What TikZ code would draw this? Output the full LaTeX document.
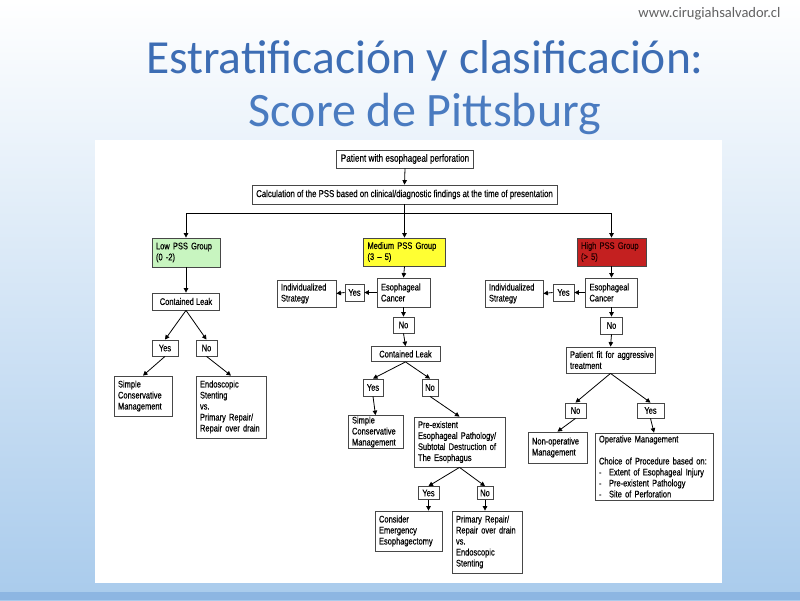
\documentclass[tikz,border=0pt]{standalone}
\usepackage{fontspec}
\setmainfont{Liberation Sans}
\newfontfamily\narrowfont[FakeStretch=0.78,FakeBold=0.3]{Liberation Sans}
\newfontfamily\titlefont{Carlito}
\usetikzlibrary{arrows.meta}
\definecolor{ttl}{HTML}{3D6DB4}
\definecolor{ttlb}{HTML}{4A7BC0}
\definecolor{bgblue}{HTML}{A9CBEC}
\definecolor{bgband}{HTML}{8DB6E2}
\definecolor{lowg}{HTML}{C8F5C0}
\definecolor{medy}{HTML}{FFFF33}
\definecolor{highr}{HTML}{C42020}
\newcommand\bxf{\narrowfont\fontsize{9.6}{11}\selectfont\hyphenpenalty=10000\exhyphenpenalty=10000}
\tikzset{
  bx/.style={draw=black!72, fill=white, line width=0.8pt, inner xsep=4pt, inner ysep=1pt, font=\bxf, align=center},
  lbx/.style={bx, align=left},
  arr/.style={line width=0.8pt, -{Triangle[length=4.5pt,width=4.5pt]}},
}
\begin{document}
\begin{tikzpicture}[x=1pt,y=-1pt]
\useasboundingbox (0,0) rectangle (800,600);
% background
\shade[top color=white, middle color=white!75!bgblue, bottom color=bgblue] (0,0) rectangle (800,600);
\fill[bgband] (0,592) rectangle (800,600);
\fill[white] (95,140) rectangle (722,583);
% titles
\node[font=\titlefont\fontsize{14.5}{16}\selectfont, text=black!62, anchor=east] (url) at (784,14) {www.cirugiahsalvador.cl};
\node[font=\titlefont\fontsize{47.5}{52}\selectfont, text=ttl, anchor=base] (t1) at (425,73) {Estratificación y clasificación:};
\node[font=\titlefont\fontsize{48}{52}\selectfont, text=ttlb, anchor=base] (t2) at (425,126) {Score de Pittsburg};

% top
\node[bx, minimum width=136, minimum height=18, font=\narrowfont\fontsize{10.5}{11}\selectfont] (pat) at (405,159) {Patient with esophageal perforation};
\node[bx, minimum width=305, minimum height=19, font=\narrowfont\fontsize{10}{11}\selectfont] (calc) at (404.5,194.5) {Calculation of the PSS based on clinical/diagnostic findings at the time of presentation};
\coordinate (j) at (404.5,213);

% groups
\node[lbx, fill=lowg, text width=60, minimum height=29] (low) at (186,252.5) {Low~PSS~Group\\(0 -2)};
\node[lbx, fill=medy, text width=74, minimum height=28] (med) at (404.5,252) {Medium~PSS~Group\\(3 – 5)};
\node[lbx, fill=highr, text width=61, minimum height=28, text=black!85!red] (high) at (611.5,252) {High~PSS~Group\\(> 5)};

% low column
\node[bx, minimum width=67, minimum height=17] (lowCL) at (186,301.5) {Contained~Leak};
\node[bx, minimum width=26, minimum height=16, inner xsep=2pt] (lowYes) at (165,348) {Yes};
\node[bx, minimum width=21, minimum height=16, inner xsep=2pt] (lowNo) at (206.5,348) {No};
\node[lbx, text width=50, minimum height=40] (lowSimple) at (143,396) {Simple\\Conservative\\Management};
\node[lbx, text width=62, minimum height=62] (lowEndo) at (231,407) {Endoscopic\\Stenting\\vs.\\Primary~Repair/\\Repair~over~drain};

% medium column
\node[lbx, text width=51, minimum height=27] (medInd) at (306.5,293.5) {Individualized\\Strategy};
\node[bx, minimum width=19, minimum height=17, inner xsep=2pt] (medYes) at (354.5,292.5) {Yes};
\node[lbx, text width=45, minimum height=29] (medCan) at (403.5,292.5) {Esophageal\\Cancer};
\node[bx, minimum width=21, minimum height=16, inner xsep=2pt] (medNo) at (403.5,325) {No};
\node[bx, minimum width=69, minimum height=15] (medCL) at (405.5,354) {Contained~Leak};
\node[bx, minimum width=20, minimum height=17, inner xsep=2pt] (medYes2) at (373,387.5) {Yes};
\node[bx, minimum width=16, minimum height=17, inner xsep=2pt] (medNo2) at (430,387.5) {No};
\node[lbx, text width=47, minimum height=31] (medSimple) at (375.5,432) {Simple\\Conservative\\Management};
\node[lbx, text width=83, minimum height=50] (medPre) at (459.5,442) {Pre-existent\\Esophageal~Pathology/\\Subtotal~Destruction~of\\The~Esophagus};
\node[bx, minimum width=21, minimum height=13, inner xsep=2pt, inner ysep=0pt] (medYes3) at (428.5,493) {Yes};
\node[bx, minimum width=16, minimum height=13, inner xsep=2pt, inner ysep=0pt] (medNo3) at (485,493) {No};
\node[lbx, text width=59, minimum height=40] (medCons) at (408.5,531) {Consider\\Emergency\\Esophagectomy};
\node[lbx, text width=62, minimum height=62] (medPrim) at (487,542) {Primary~Repair/\\Repair~over~drain\\vs.\\Endoscopic\\Stenting};

% high column
\node[lbx, text width=50, minimum height=27] (highInd) at (514,293.5) {Individualized\\Strategy};
\node[bx, minimum width=21, minimum height=17, inner xsep=2pt] (highYes) at (563.5,292.5) {Yes};
\node[lbx, text width=44, minimum height=29] (highCan) at (611.5,292.5) {Esophageal\\Cancer};
\node[bx, minimum width=22, minimum height=17, inner xsep=2pt] (highNo) at (611.5,325.5) {No};
\node[lbx, text width=81, minimum height=26] (highFit) at (610.5,360) {Patient~fit~for~aggressive\\treatment};
\node[bx, minimum width=21, minimum height=15, inner xsep=2pt] (highNo2) at (575.5,410.5) {No};
\node[bx, minimum width=27, minimum height=15, inner xsep=2pt] (highYes2) at (650.5,410.5) {Yes};
\node[lbx, text width=51, minimum height=31] (highNonop) at (557.5,447.5) {Non-operative\\Management};
\node[lbx, text width=110, minimum height=67] (highOp) at (654,466.5) {Operative~Management\\[11pt]Choice~of~Procedure~based~on:\\\makebox[10pt][l]{-}Extent~of~Esophageal~Injury\\\makebox[10pt][l]{-}Pre-existent~Pathology\\\makebox[10pt][l]{-}Site~of~Perforation};

% connectors top
\draw[arr] (pat.south) -- (calc.north);
\draw[arr] (calc.south) -- (med.north);
\draw[arr] (j) -| (low.north);
\draw[arr] (j) -| (high.north);

% low
\draw[arr] (low.south) -- (lowCL.north);
\draw[arr] (lowCL.south) -- (lowYes.north);
\draw[arr] (lowCL.south) -- (lowNo.north);
\draw[arr] (lowYes.south) -- (lowSimple.north);
\draw[arr] (lowNo.south) -- (lowEndo.north);

% medium
\draw[arr] (med.south) -- (medCan.north);
\draw[arr] (medCan.south) -- (medNo.north);
\draw[arr] (medNo.south) -- (medCL.north);
\draw[arr] (medCan.west) -- (medYes.east);
\draw[arr] (medYes.west) -- (medInd.east);
\draw[arr] (medCL.south) -- (medYes2.north);
\draw[arr] (medCL.south) -- (medNo2.north);
\draw[arr] (medYes2.south) -- (medSimple.north);
\draw[arr] (medNo2.south) -- (medPre.north);
\draw[arr] (medPre.south) -- (medYes3.north);
\draw[arr] (medPre.south) -- (medNo3.north);
\draw[arr] (medYes3.south) -- (medYes3.south |- medCons.north);
\draw[arr] (medNo3.south) -- (medNo3.south |- medPrim.north);

% high
\draw[arr] (high.south) -- (highCan.north);
\draw[arr] (highCan.south) -- (highNo.north);
\draw[arr] (highNo.south) -- (highFit.north);
\draw[arr] (highCan.west) -- (highYes.east);
\draw[arr] (highYes.west) -- (highInd.east);
\draw[arr] (highFit.south) -- (highNo2.north);
\draw[arr] (highFit.south) -- (highYes2.north);
\draw[arr] (highNo2.south) -- (highNonop.north);
\draw[arr] (highYes2.south) -- (highOp.north);
\end{tikzpicture}
\end{document}
